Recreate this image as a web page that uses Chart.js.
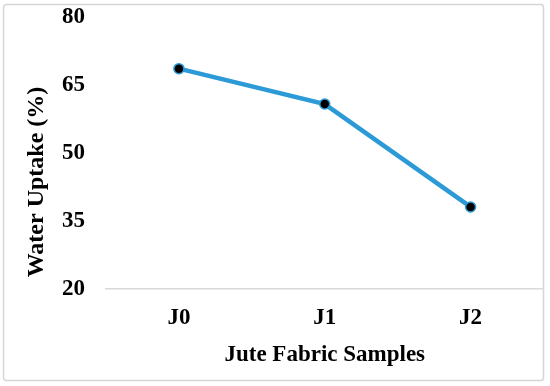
<!DOCTYPE html>
<html>
<head>
<meta charset="utf-8">
<script src="https://cdn.jsdelivr.net/npm/chart.js@4"></script>
<style>
  html, body { margin: 0; padding: 0; background: #fff; }
  #wrap { position: relative; width: 550px; height: 386px; }
</style>
</head>
<body>
<div id="wrap"><canvas id="uptakeChart"></canvas></div>
<script>
// water uptake of the jute fabric samples
const samples = ['J0', 'J1', 'J2'];
const waterUptake = [68.6, 60.8, 38.1];
const yTicks = [20, 35, 50, 65, 80];
const yTitle = 'Water Uptake (%)';

const serif = '"Liberation Serif", "Times New Roman", serif';

// light grey frame round the whole picture, and the y title
// (it sits lower than the middle of the axis in the original)
const framePlugin = {
  id: 'frame',
  beforeDraw(chart) {
    const c = chart.ctx;
    c.save();
    c.strokeStyle = '#d6d6d6';
    c.lineWidth = 1.5;
    c.beginPath();
    c.roundRect(3.5, 4.5, 540, 376, 3);
    c.stroke();
    c.restore();
  },
  afterDraw(chart) {
    const c = chart.ctx;
    c.save();
    c.translate(37, 182);
    c.rotate(-Math.PI / 2);
    c.fillStyle = '#000';
    c.font = 'bold 24px ' + serif;
    c.textAlign = 'center';
    c.textBaseline = 'middle';
    c.fillText(yTitle, 0, 0);
    c.restore();
  }
};

document.addEventListener('DOMContentLoaded', () => {
  const ctx = document.getElementById('uptakeChart').getContext('2d');
  new Chart(ctx, {
    type: 'line',
    data: {
      labels: samples,
      datasets: [{
        label: 'Water Uptake',
        data: waterUptake,
        borderColor: '#2b9ad6',
        borderWidth: 4.5,
        pointBackgroundColor: '#000',
        pointBorderColor: '#2b9ad6',
        pointBorderWidth: 1.5,
        pointRadius: 5,
        tension: 0
      }]
    },
    options: {
      responsive: true,
      maintainAspectRatio: false,
      animation: false,
      layout: { padding: { top: 17, right: 6, left: 19, bottom: 17 } },
      plugins: {
        legend: { display: false },
        tooltip: { enabled: false }
      },
      scales: {
        x: {
          offset: true,
          afterFit: (axis) => { axis.height = 80; },
          grid: { display: false, drawTicks: false },
          border: { color: '#d9d9d9', width: 1.5 },
          ticks: {
            color: '#000',
            padding: 15,
            font: { family: serif, size: 23, weight: 'bold' }
          },
          title: {
            display: true,
            text: 'Jute Fabric Samples',
            color: '#000',
            padding: { top: 0, bottom: 0 },
            font: { family: serif, size: 23, weight: 'bold' }
          }
        },
        y: {
          min: 20,
          max: 80,
          afterBuildTicks: (axis) => {
            axis.ticks = yTicks.map(v => ({ value: v }));
          },
          afterFit: (axis) => {
            axis.width = 87;
            axis.paddingTop = 0;
            axis.paddingBottom = 0;
          },
          grid: { display: false, drawTicks: false },
          border: { display: false },
          ticks: {
            color: '#000',
            padding: 21,
            font: { family: serif, size: 23, weight: 'bold' }
          }
        }
      }
    },
    plugins: [framePlugin]
  });
});
</script>
</body>
</html>
